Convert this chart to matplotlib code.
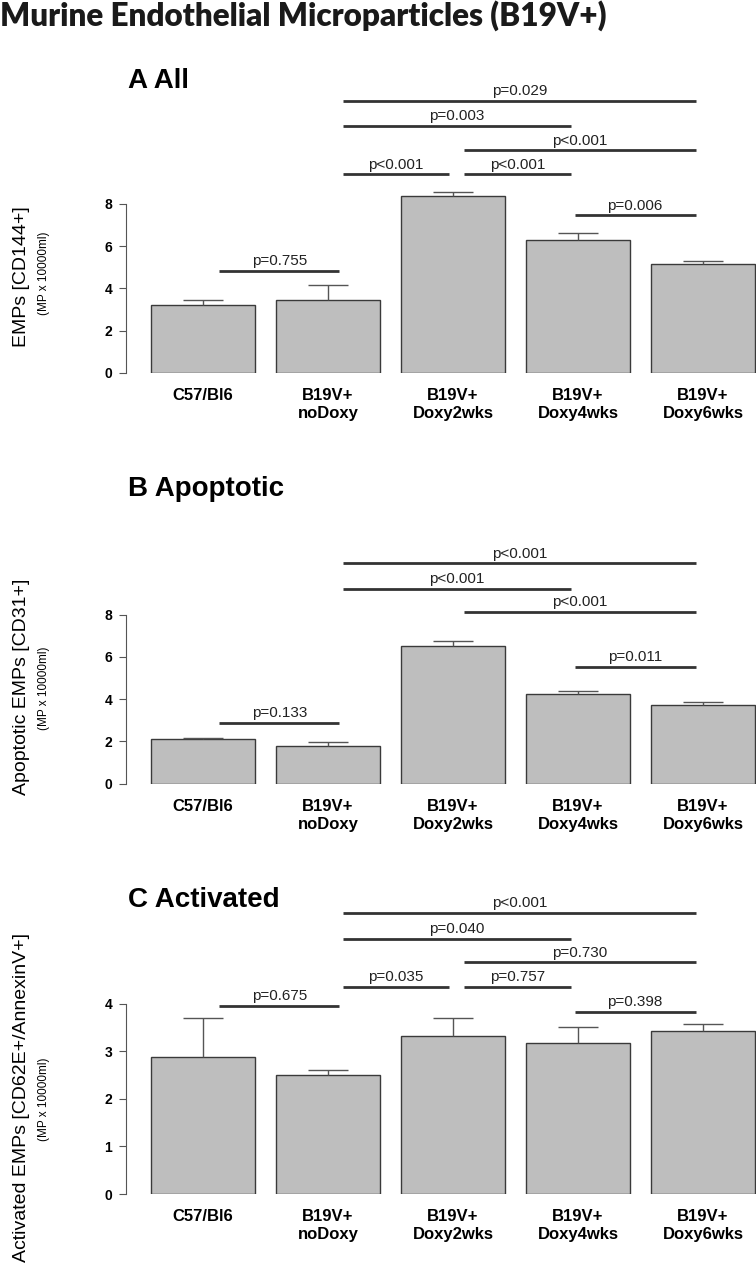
# Murine endothelial microparticles - three barplots with p-value brackets
import matplotlib
matplotlib.use("Agg")
import matplotlib.pyplot as plt

# Groups
groups = ["C57/Bl6", "B19V+\nnoDoxy", "B19V+\nDoxy2wks", "B19V+\nDoxy4wks", "B19V+\nDoxy6wks"]

# A All - EMPs [CD144+]
all_mean = [3.23, 3.47, 8.35, 6.30, 5.17]
all_sem = [0.24, 0.70, 0.19, 0.31, 0.14]

# B Apoptotic - EMPs [CD31+]
apo_mean = [2.12, 1.77, 6.52, 4.23, 3.74]
apo_sem = [0.06, 0.19, 0.23, 0.17, 0.11]

# C Activated - EMPs [CD62E+/AnnexinV+]
act_mean = [2.87, 2.50, 3.33, 3.18, 3.42]
act_sem = [0.83, 0.10, 0.37, 0.33, 0.16]

# comparisons: (group i, group j, label, bracket height)
all_pvals = [(0, 1, "p=0.755", 4.81), (3, 4, "p=0.006", 7.45),
             (1, 2, "p<0.001", 9.39), (2, 3, "p<0.001", 9.39),
             (2, 4, "p<0.001", 10.52), (1, 3, "p=0.003", 11.67),
             (1, 4, "p=0.029", 12.85)]
apo_pvals = [(0, 1, "p=0.133", 2.89), (3, 4, "p=0.011", 5.52),
             (2, 4, "p<0.001", 8.13), (1, 3, "p<0.001", 9.23),
             (1, 4, "p<0.001", 10.43)]
act_pvals = [(3, 4, "p=0.398", 3.83), (0, 1, "p=0.675", 3.95),
             (1, 2, "p=0.035", 4.35), (2, 3, "p=0.757", 4.35),
             (2, 4, "p=0.730", 4.87), (1, 3, "p=0.040", 5.36),
             (1, 4, "p<0.001", 5.91)]

# bracket ends sit a little off the bar centres
left_nudge = [0.13, 0.12, 0.085, -0.025, 0.0]
right_nudge = [0.0, 0.09, -0.03, -0.055, -0.06]

W, H = 756, 1267
fig = plt.figure(figsize=(W / 100, H / 100), dpi=100)

BAR = "#bebebe"
EDGE = "#3a3a3a"
LINE = "#333333"


def panel(y0, scale, ymax, top, means, sems, pvals):
    # y0: pixel row of the zero line, scale: pixels per unit
    ytop = y0 - top * scale
    ax = fig.add_axes([126 / W, 1 - y0 / H, 630 / W, (y0 - ytop) / H])
    x = range(len(groups))
    ax.bar(x, means, width=0.832, color=BAR, edgecolor=EDGE, linewidth=1.0, zorder=2)
    tops = [m + s for m, s in zip(means, sems)]
    ax.vlines(x, means, tops, color="#555555", linewidth=1.0, zorder=3)
    ax.hlines(tops, [i - 0.16 for i in x], [i + 0.16 for i in x],
              color="#555555", linewidth=1.0, zorder=3)
    for i, j, lab, yy in pvals:
        x0 = i + left_nudge[i]
        x1 = j + right_nudge[j]
        ax.plot([x0, x1], [yy, yy], color=LINE, linewidth=2.0, clip_on=False,
                solid_capstyle="butt")
        ax.annotate(lab, ((x0 + x1) / 2, yy), xytext=(0, 2), textcoords="offset points",
                    ha="center", va="bottom", fontsize=11, color="#222222",
                    family="Liberation Sans")
    ax.set_xlim(-0.616, 4.424)
    ax.set_ylim(0, top)
    for s in ["top", "right", "bottom"]:
        ax.spines[s].set_visible(False)
    ax.spines["left"].set_bounds(0, ymax)
    ax.spines["left"].set_color("#555555")
    ax.set_yticks(range(0, ymax + 1, 2 if ymax > 4 else 1))
    ax.tick_params(axis="y", length=5, pad=5, color="#555555", labelsize=10)
    for t in ax.get_yticklabels():
        t.set_fontweight("bold")
        t.set_family("Liberation Sans")
    ax.set_xticks(list(x))
    ax.set_xticklabels(groups, fontsize=12, fontweight="bold", family="Liberation Sans",
                       linespacing=1.25)
    ax.tick_params(axis="x", length=0, pad=11)
    ax.patch.set_visible(False)
    return ax


panel(373, 21.16, 8, 13.5, all_mean, all_sem, all_pvals)
panel(783.7, 21.13, 8, 11.5, apo_mean, apo_sem, apo_pvals)
panel(1194, 47.58, 4, 6.3, act_mean, act_sem, act_pvals)

# titles
fig.text(0, 1 - 26 / H, "Murine Endothelial Microparticles (B19V+)", fontsize=22.7,
         fontweight="heavy", family="Lato", va="baseline", ha="left", color="#1a1a1a")
for txt, yb in [("A All", 88), ("B Apoptotic", 496), ("C Activated", 907)]:
    fig.text(128 / W, 1 - yb / H, txt, fontsize=20, fontweight="bold",
             family="Liberation Sans", va="baseline", ha="left")

# y axis labels
for main, yc, yc2 in [("EMPs [CD144+]", 277, 273),
                      ("Apoptotic EMPs [CD31+]", 687, 688),
                      ("Activated EMPs [CD62E+/AnnexinV+]", 1097, 1099)]:
    fig.text(22 / W, 1 - yc / H, main, rotation=90, fontsize=14, family="Liberation Sans",
             ha="center", va="center")
    fig.text(44 / W, 1 - yc2 / H, "(MP x 10000ml)", rotation=90, fontsize=8.5,
             family="Liberation Sans", ha="center", va="center")

plt.savefig("out.png", dpi=100)
